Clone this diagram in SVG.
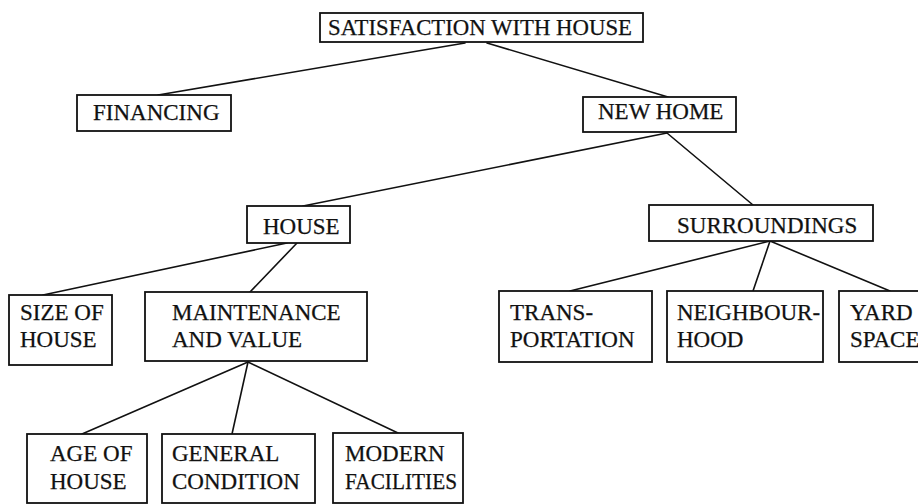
<svg xmlns="http://www.w3.org/2000/svg" width="918" height="504" viewBox="0 0 918 504">
<style>
rect{fill:#fff;stroke:#111;stroke-width:1.8}
text{font-family:"Liberation Serif","Times New Roman",serif;font-size:23px;fill:#111;stroke:#111;stroke-width:0.25}
#edges line{stroke:#111;stroke-width:1.6;stroke-linecap:round}
</style>
<rect x="0" y="0" width="918" height="504" style="stroke:none"/>
<g id="edges">
<line x1="465" y1="43" x2="158" y2="95"/>
<line x1="487" y1="43" x2="668" y2="97"/>
<line x1="667" y1="133" x2="303" y2="206"/>
<line x1="667" y1="133" x2="753" y2="205"/>
<line x1="287" y1="243" x2="43" y2="295"/>
<line x1="297" y1="243" x2="250" y2="292"/>
<line x1="770" y1="241" x2="570" y2="291"/>
<line x1="770" y1="241" x2="753" y2="291"/>
<line x1="770" y1="241" x2="890" y2="291"/>
<line x1="248" y1="362" x2="82" y2="434"/>
<line x1="248" y1="362" x2="232" y2="434"/>
<line x1="248" y1="362" x2="398" y2="433"/>
</g>
<g id="root"><rect x="320" y="13" width="323" height="29"/><text x="328" y="35" style="font-size:22.5px" textLength="304" lengthAdjust="spacingAndGlyphs">SATISFACTION WITH HOUSE</text></g>
<g id="financing"><rect x="77" y="95" width="154" height="36"/><text x="93" y="120">FINANCING</text></g>
<g id="newhome"><rect x="583" y="97" width="153" height="35"/><text x="598" y="119">NEW HOME</text></g>
<g id="house"><rect x="247" y="206" width="103" height="37"/><text x="263" y="234">HOUSE</text></g>
<g id="surroundings"><rect x="649" y="205" width="224" height="36"/><text x="677" y="233">SURROUNDINGS</text></g>
<g id="size"><rect x="9" y="295" width="103" height="70"/><text x="20" y="320">SIZE OF</text><text x="20" y="347">HOUSE</text></g>
<g id="maintenance"><rect x="145" y="292" width="222" height="69"/><text x="172" y="320">MAINTENANCE</text><text x="172" y="347">AND VALUE</text></g>
<g id="transportation"><rect x="499" y="291" width="153" height="71"/><text x="510" y="320">TRANS-</text><text x="510" y="347">PORTATION</text></g>
<g id="neighbourhood"><rect x="667" y="291" width="156" height="71"/><text x="677" y="320">NEIGHBOUR-</text><text x="677" y="347">HOOD</text></g>
<g id="yard"><rect x="839" y="291" width="95" height="71"/><text x="850" y="320">YARD</text><text x="850" y="347">SPACE</text></g>
<g id="age"><rect x="27" y="434" width="120" height="69"/><text x="50" y="461">AGE OF</text><text x="50" y="489">HOUSE</text></g>
<g id="general"><rect x="162" y="434" width="153" height="69"/><text x="172" y="461">GENERAL</text><text x="172" y="489">CONDITION</text></g>
<g id="modern"><rect x="333" y="433" width="130" height="70"/><text x="345" y="461">MODERN</text><text x="345" y="489" textLength="112" lengthAdjust="spacingAndGlyphs">FACILITIES</text></g>
</svg>
